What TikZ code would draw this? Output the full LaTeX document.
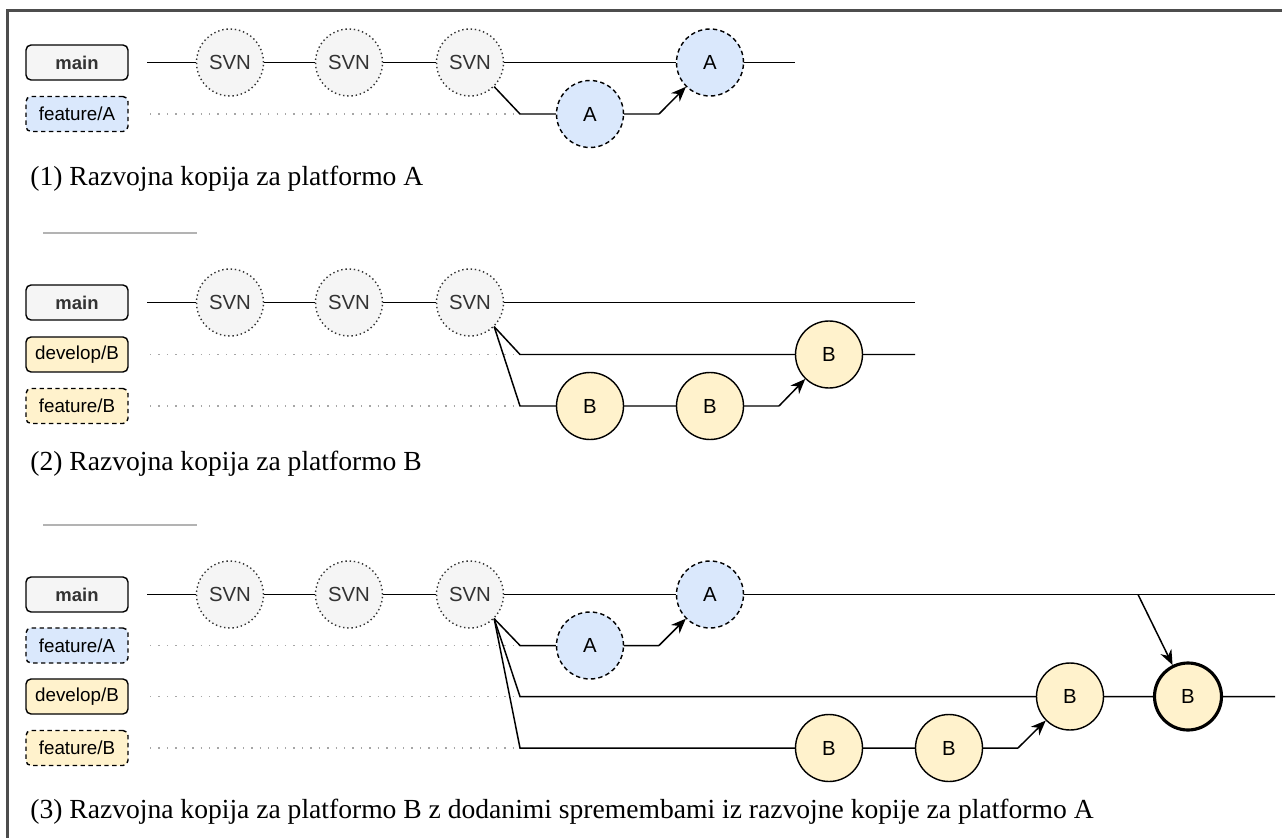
\documentclass[tikz,border=0pt]{standalone}
\usepackage{fontspec}
\setmainfont{Liberation Serif}
\newfontfamily\lblfont{Liberation Sans}
\usetikzlibrary{arrows.meta}
\definecolor{svnfill}{HTML}{F5F5F5}
\definecolor{afill}{HTML}{DAE8FC}
\definecolor{bfill}{HTML}{FFF2CC}
\definecolor{framegray}{HTML}{4D4D4D}
\definecolor{sepgray}{HTML}{B3B3B3}
\definecolor{txtgray}{HTML}{333333}
\tikzset{
  branch/.style={draw, rounded corners=0.1cm, minimum width=2.04cm, minimum height=0.7cm,
    inner sep=0pt, line width=0.8pt, font={\lblfont\fontsize{10.7}{12}\selectfont}},
  mainbr/.style={branch, fill=svnfill, text=txtgray, font={\lblfont\bfseries\fontsize{10.5}{12}\selectfont}},
  fabr/.style={branch, fill=afill, dash pattern=on 2.5pt off 2pt},
  dbbr/.style={branch, fill=bfill},
  fbbr/.style={branch, fill=bfill, dash pattern=on 2.5pt off 2pt},
  commit/.style={circle, draw, minimum size=1.34cm, inner sep=0pt, line width=0.8pt,
    font={\lblfont\fontsize{11.6}{13}\selectfont}},
  svn/.style={commit, fill=svnfill, draw=txtgray, text=txtgray, dash pattern=on 0.8pt off 1.6pt},
  acmt/.style={commit, fill=afill, dash pattern=on 2.5pt off 1.8pt},
  bcmt/.style={commit, fill=bfill},
  merge/.style={bcmt, line width=1.8pt},
  link/.style={line width=0.85pt},
  track/.style={draw=gray!70, line width=0.8pt, dash pattern=on 0.8pt off 4pt},
  arr/.style={link, -{Stealth[length=0.3cm,width=0.24cm]}},
  title/.style={anchor=base west, inner sep=0pt, font={\fontsize{15.7}{18}\selectfont}}
}
\begin{document}
\begin{tikzpicture}[x=0.02cm, y=-0.02cm]
  \useasboundingbox (0,0) rectangle (1282,838);
  % frame and separators
  \draw[framegray, line width=1.2pt] (7.5,838) -- (7.5,10.5) -- (1282,10.5);
  \draw[sepgray, line width=1.2pt] (43,233) -- (197,233);
  \draw[sepgray, line width=1.2pt] (43,525) -- (197,525);

  % (1) feature/A
  \node[mainbr] (m1) at (77,62.5) {main};
  \node[fabr] (fa1) at (77,114) {feature/A};
  \node[svn] (p1s1) at (230,62.5) {SVN};
  \node[svn] (p1s2) at (349,62.5) {SVN};
  \node[svn] (p1s3) at (470,62.5) {SVN};
  \node[acmt] (p1a1) at (590,114) {A};
  \node[acmt] (p1a2) at (710,62.5) {A};
  \coordinate (p1m0) at (147,62.5);
  \coordinate (p1m9) at (795,62.5);
  \coordinate (p1t0) at (150,114);
  \coordinate (p1k) at (520,114);
  \coordinate (p1j) at (659,114);
  \draw[link] (p1m0) -- (p1s1) -- (p1s2) -- (p1s3) -- (p1a2) -- (p1m9);
  \draw[track] (p1t0) -- (p1k);
  \draw[link] (p1s3.-45) -- (p1k) -- (p1a1) -- (p1j);
  \draw[arr] (p1j) -- (p1a2);
  \node[title] (c1) at (30,186) {(1) Razvojna kopija za platformo A};

  % (2) develop/B
  \node[mainbr] (m2) at (77,302.5) {main};
  \node[dbbr] (db2) at (77,354.5) {develop/B};
  \node[fbbr] (fb2) at (77,406) {feature/B};
  \node[svn] (p2s1) at (230,302.5) {SVN};
  \node[svn] (p2s2) at (349,302.5) {SVN};
  \node[svn] (p2s3) at (470,302.5) {SVN};
  \node[bcmt] (p2b1) at (590,406) {B};
  \node[bcmt] (p2b2) at (710,406) {B};
  \node[bcmt] (p2b3) at (829,354.5) {B};
  \coordinate (p2m0) at (147,302.5);
  \coordinate (p2m9) at (915,302.5);
  \coordinate (p2d9) at (915,354.5);
  \coordinate (p2td) at (150,354.5);
  \coordinate (p2tf) at (150,406);
  \coordinate (p2kd) at (520,354.5);
  \coordinate (p2kf) at (520,406);
  \coordinate (p2j) at (779,406);
  \draw[link] (p2m0) -- (p2s1) -- (p2s2) -- (p2s3) -- (p2m9);
  \draw[track] (p2td) -- (p2kd);
  \draw[track] (p2tf) -- (p2kf);
  \draw[link] (p2s3.-45) -- (p2kd) -- (p2b3) -- (p2d9);
  \draw[link] (p2s3.-45) -- (p2kf) -- (p2b1) -- (p2b2) -- (p2j);
  \draw[arr] (p2j) -- (p2b3);
  \node[title] (c2) at (30,470) {(2) Razvojna kopija za platformo B};

  % (3) merge A into B
  \node[mainbr] (m3) at (77,594.5) {main};
  \node[fabr] (fa3) at (77,645.5) {feature/A};
  \node[dbbr] (db3) at (77,696.5) {develop/B};
  \node[fbbr] (fb3) at (77,748) {feature/B};
  \node[svn] (p3s1) at (230,594.5) {SVN};
  \node[svn] (p3s2) at (349,594.5) {SVN};
  \node[svn] (p3s3) at (470,594.5) {SVN};
  \node[acmt] (p3a1) at (590,645.5) {A};
  \node[acmt] (p3a2) at (710,594.5) {A};
  \node[bcmt] (p3b1) at (829,748) {B};
  \node[bcmt] (p3b2) at (949,748) {B};
  \node[bcmt] (p3b3) at (1070,696.5) {B};
  \node[merge] (p3b4) at (1188,696.5) {B};
  \coordinate (p3m0) at (147,594.5);
  \coordinate (p3m9) at (1275,594.5);
  \coordinate (p3d9) at (1275,696.5);
  \coordinate (p3ta) at (150,645.5);
  \coordinate (p3td) at (150,696.5);
  \coordinate (p3tf) at (150,748);
  \coordinate (p3ka) at (520,645.5);
  \coordinate (p3kd) at (520,696.5);
  \coordinate (p3kf) at (520,748);
  \coordinate (p3ja) at (659,645.5);
  \coordinate (p3jf) at (1018,748);
  \coordinate (p3x) at (1138,594.5);
  \draw[link] (p3m0) -- (p3s1) -- (p3s2) -- (p3s3) -- (p3a2) -- (p3m9);
  \draw[track] (p3ta) -- (p3ka);
  \draw[track] (p3td) -- (p3kd);
  \draw[track] (p3tf) -- (p3kf);
  \draw[link] (p3s3.-45) -- (p3ka) -- (p3a1) -- (p3ja);
  \draw[arr] (p3ja) -- (p3a2);
  \draw[link] (p3s3.-45) -- (p3kd) -- (p3b3) -- (p3b4) -- (p3d9);
  \draw[link] (p3s3.-45) -- (p3kf) -- (p3b1) -- (p3b2) -- (p3jf);
  \draw[arr] (p3jf) -- (p3b3);
  \draw[arr] (p3x) -- (p3b4);
  \node[title] (c3) at (30,818) {(3) Razvojna kopija za platformo B z dodanimi spremembami iz razvojne kopije za platformo A};
\end{tikzpicture}
\end{document}
